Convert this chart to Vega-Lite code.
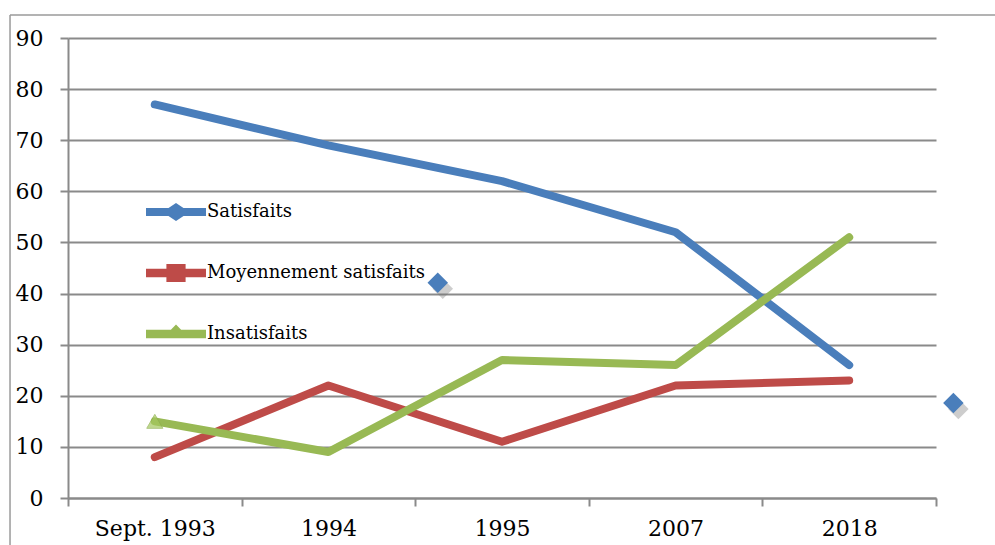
{
  "$schema": "https://vega.github.io/schema/vega-lite/v6.json",
  "width": 868,
  "height": 460,
  "autosize": {"type": "none"},
  "padding": {"left": 68, "top": 38, "right": 59, "bottom": 47},
  "background": "white",
  "config": {"view": {"stroke": null}, "font": "DejaVu Serif"},
  "datasets": {
    "main": [
      {"period": "Sept. 1993", "series": "Satisfaits", "value": 77},
      {"period": "1994", "series": "Satisfaits", "value": 69},
      {"period": "1995", "series": "Satisfaits", "value": 62},
      {"period": "2007", "series": "Satisfaits", "value": 52},
      {"period": "2018", "series": "Satisfaits", "value": 26},
      {"period": "Sept. 1993", "series": "Moyennement satisfaits", "value": 8},
      {"period": "1994", "series": "Moyennement satisfaits", "value": 22},
      {"period": "1995", "series": "Moyennement satisfaits", "value": 11},
      {"period": "2007", "series": "Moyennement satisfaits", "value": 22},
      {"period": "2018", "series": "Moyennement satisfaits", "value": 23},
      {"period": "Sept. 1993", "series": "Insatisfaits", "value": 15},
      {"period": "1994", "series": "Insatisfaits", "value": 9},
      {"period": "1995", "series": "Insatisfaits", "value": 27},
      {"period": "2007", "series": "Insatisfaits", "value": 26},
      {"period": "2018", "series": "Insatisfaits", "value": 51}
    ],
    "stray": [
      {"pos": 2.13, "value": 42.1},
      {"pos": 5.1, "value": 18.6}
    ],
    "frame": [
      {"x1": -0.334, "x2": -0.334, "y1": 94.5, "y2": -9.5},
      {"x1": -0.334, "x2": 5.35, "y1": 94.5, "y2": 94.5}
    ]
  },
  "resolve": {"scale": {"x": "independent"}},
  "layer": [
    {
      "data": {"name": "frame"},
      "mark": {"type": "rule", "color": "#9a9a9a", "strokeWidth": 1.5, "clip": false},
      "encoding": {
        "x": {"field": "x1", "type": "quantitative", "scale": {"domain": [0, 5], "nice": false, "zero": false}, "axis": null},
        "x2": {"field": "x2"},
        "y": {"field": "y1", "type": "quantitative", "scale": {"domain": [0, 90]}},
        "y2": {"field": "y2"}
      }
    },
    {
      "data": {"name": "main"},
      "layer": [
        {
          "mark": {"type": "line", "strokeWidth": 8, "strokeCap": "round", "strokeJoin": "round"},
          "encoding": {
            "x": {
              "field": "period", "type": "nominal",
              "sort": ["Sept. 1993", "1994", "1995", "2007", "2018"],
              "bandPosition": 0.5,
              "scale": {"type": "band", "paddingInner": 0, "paddingOuter": 0},
              "axis": {
                "title": null, "labelAngle": 0, "tickBand": "extent", "grid": false,
                "domainColor": "#8a8a8a", "domainWidth": 2,
                "tickColor": "#8a8a8a", "tickWidth": 2, "tickSize": 8,
                "labelFontSize": 22, "labelFont": "DejaVu Serif", "labelColor": "black", "labelPadding": 12
              }
            },
            "y": {
              "field": "value", "type": "quantitative",
              "scale": {"domain": [0, 90], "nice": false},
              "axis": {
                "title": null, "values": [0, 10, 20, 30, 40, 50, 60, 70, 80, 90],
                "grid": true, "gridColor": "#8a8a8a", "gridWidth": 2,
                "domainColor": "#8a8a8a", "domainWidth": 2,
                "tickColor": "#8a8a8a", "tickWidth": 2, "tickSize": 8,
                "labelFontSize": 22, "labelFont": "DejaVu Serif", "labelColor": "black", "labelPadding": 17
              }
            },
            "color": {
              "field": "series", "type": "nominal",
              "scale": {
                "domain": ["Satisfaits", "Moyennement satisfaits", "Insatisfaits"],
                "range": ["#4A7EBB", "#BE4B48", "#98B954"]
              },
              "legend": {
                "orient": "none", "legendX": 78, "legendY": 144, "title": null,
                "padding": 0, "rowPadding": 22, "labelOffset": 1, "labelLimit": 400,
                "labelFontSize": 18, "labelFont": "DejaVu Serif", "labelColor": "black",
                "symbolSize": 3600, "symbolStrokeWidth": 0,
                "encode": {
                  "symbols": {
                    "update": {
                      "shape": {"signal": "datum.value === 'Satisfaits' ? 'M-1,-0.133 L-0.25,-0.133 L0,-0.3 L0.25,-0.133 L1,-0.133 L1,0.133 L0.25,0.133 L0,0.3 L-0.25,0.133 L-1,0.133 Z' : datum.value === 'Moyennement satisfaits' ? 'M-1,-0.14 L-0.32,-0.14 L-0.32,-0.3 L0.32,-0.3 L0.32,-0.14 L1,-0.14 L1,0.14 L0.32,0.14 L0.32,0.3 L-0.32,0.3 L-0.32,0.14 L-1,0.14 Z' : 'M-1,-0.14 L-0.17,-0.14 L0,-0.32 L0.17,-0.14 L1,-0.14 L1,0.14 L-1,0.14 Z'"},
                      "fill": {"scale": "color", "field": "value"},
                      "strokeWidth": {"value": 0}
                    }
                  }
                }
              }
            }
          }
        },
        {
          "transform": [{"filter": "datum.series === 'Insatisfaits' && datum.period === 'Sept. 1993'"}],
          "mark": {"type": "point", "shape": "triangle-up", "filled": true, "size": 260, "color": "#A5C85F", "stroke": "#8FB04C", "strokeWidth": 1},
          "encoding": {
            "x": {"field": "period", "type": "nominal", "sort": ["Sept. 1993", "1994", "1995", "2007", "2018"], "bandPosition": 0.5},
            "y": {"field": "value", "type": "quantitative"}
          }
        }
      ]
    },
    {
      "data": {"name": "stray"},
      "layer": [
        {
          "mark": {"type": "point", "shape": "diamond", "filled": true, "size": 420, "color": "#6f6f6f", "opacity": 0.35, "xOffset": 5, "yOffset": 6, "clip": false},
          "encoding": {
            "x": {"field": "pos", "type": "quantitative", "scale": {"domain": [0, 5], "nice": false, "zero": false}, "axis": null},
            "y": {"field": "value", "type": "quantitative"}
          }
        },
        {
          "mark": {"type": "point", "shape": "diamond", "filled": true, "size": 420, "color": "#4A7EBB", "opacity": 1, "clip": false},
          "encoding": {
            "x": {"field": "pos", "type": "quantitative", "scale": {"domain": [0, 5], "nice": false, "zero": false}, "axis": null},
            "y": {"field": "value", "type": "quantitative"}
          }
        }
      ]
    }
  ]
}
